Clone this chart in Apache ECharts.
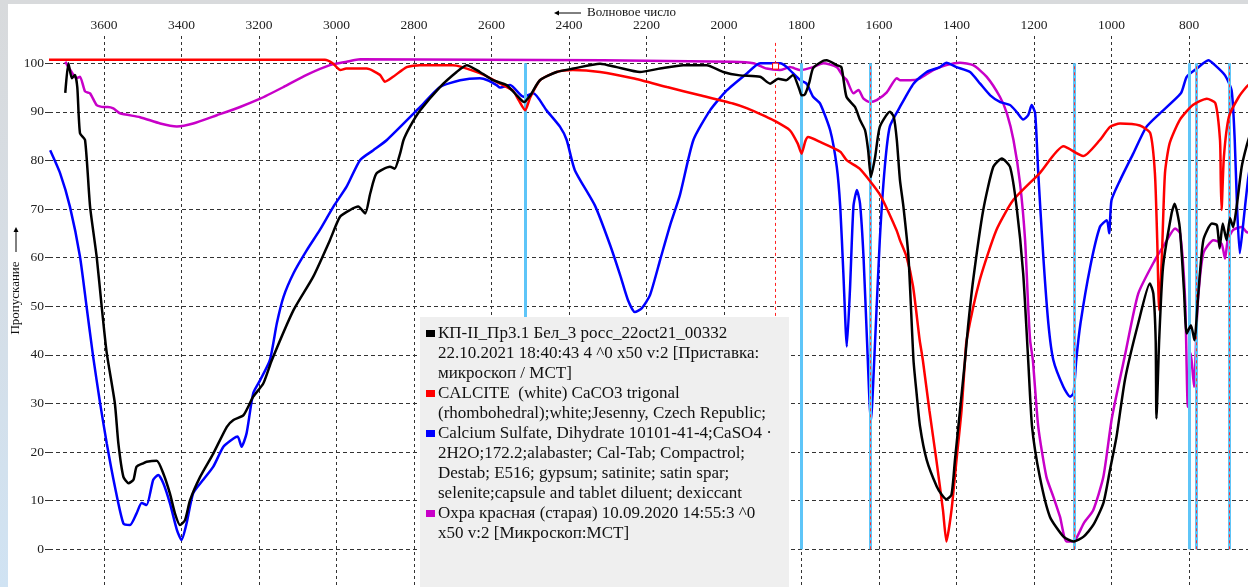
<!DOCTYPE html>
<html>
<head>
<meta charset="utf-8">
<script src="https://cdn.jsdelivr.net/npm/echarts@6/dist/echarts.min.js"></script>
<style>
  html, body { margin: 0; padding: 0; }
  body {
    width: 1248px; height: 587px; overflow: hidden; position: relative;
    background: linear-gradient(to bottom, #d8dadc 0%, #d6dde4 40%, #d0e3f3 100%);
  }
  #panel { position: absolute; left: 8px; top: 4px; width: 1240px; height: 583px; background: #fff; }
  #chart { position: absolute; left: 0; top: 0; width: 1248px; height: 587px; }
</style>
</head>
<body>
<div id="panel"></div>
<div id="chart"></div>
<script>
// Волновое число (cm-1) / Пропускание (%)
const blackData = [
  [3700, 93.9], [3692, 100], [3683, 96.9], [3675, 97.6], [3669, 95.1], [3662, 85.6], [3649, 84.2],
  [3636, 70.5], [3619, 60.2], [3606, 49.9], [3593, 40.4], [3572, 30], [3563, 21.8], [3550, 14.9],
  [3537, 13.6], [3524, 14.3], [3516, 17], [3499, 17.7], [3490, 18], [3464, 18.2], [3447, 15.6],
  [3430, 11.5], [3417, 7.4], [3404, 5], [3391, 6], [3378, 10.1], [3352, 14.9], [3318, 19.7],
  [3283, 25.2], [3266, 26.6], [3240, 27.6], [3215, 31.4], [3189, 34.1], [3167, 38.9], [3111, 49.2],
  [3060, 56.1], [3017, 63.6], [2991, 68.4], [2965, 69.8], [2944, 70.5], [2926, 69.1], [2913, 73.2],
  [2897, 77.3], [2862, 78.7], [2850, 78.3], [2836, 81.4], [2827, 84.2], [2810, 87], [2784, 90.3],
  [2733, 95.1], [2690, 98.2], [2664, 99.6], [2630, 98.2], [2596, 96.5], [2561, 95.5], [2535, 93.4],
  [2516, 92], [2500, 93.4], [2475, 96.5], [2432, 98.2], [2389, 98.9], [2320, 99.9], [2277, 99.2],
  [2217, 98.2], [2165, 98.9], [2105, 99.6], [2045, 99.6], [2002, 98.2], [1959, 97.5], [1907, 97.2],
  [1881, 95.8], [1860, 96.8], [1840, 96.5], [1822, 97.6], [1805, 94.5], [1800, 93.4], [1791, 93.6],
  [1780, 96], [1770, 99], [1744, 100.5], [1735, 100.6], [1709, 99.6], [1697, 99.2], [1684, 93.1],
  [1662, 91], [1649, 88.3], [1636, 86.2], [1628, 82.1], [1621, 76.6], [1610, 80.7], [1598, 86.9],
  [1572, 90], [1562, 89], [1554, 84.2], [1546, 76], [1537, 70.5], [1524, 60.2], [1511, 38.9],
  [1503, 32.1], [1494, 25.2], [1477, 18.4], [1451, 12.9], [1438, 11.2], [1426, 10.3], [1413, 11.2],
  [1404, 18.4], [1391, 28.6], [1378, 38.9], [1370, 46], [1357, 55.4], [1331, 69.8], [1305, 78.7],
  [1283, 80.4], [1262, 78.7], [1245, 70.5], [1228, 56.8], [1215, 38.9], [1205, 25.2], [1185, 14.9],
  [1159, 6.7], [1124, 2.6], [1098, 1.6], [1072, 2.6], [1047, 5], [1021, 9.5], [1004, 16.3],
  [987, 23.2], [965, 35], [931, 46.5], [901, 54.7], [892, 52.6], [886, 43], [884, 26.9], [877, 43],
  [867, 58.1], [845, 69.1], [837, 71.1], [824, 66.3], [813, 53.3], [806, 44.4], [795, 46.1],
  [786, 43], [776, 52.6], [763, 63.6], [741, 67], [728, 66.7], [721, 61.9], [713, 67], [703, 63.6],
  [694, 68.1], [686, 66.3], [677, 70.5], [664, 78.7], [652, 82.8], [640, 86]
];
const redData = [
  [3742, 100.7], [3030, 100.7], [3010, 100], [2990, 98.6], [2975, 98.9], [2922, 98.9], [2888, 97.6],
  [2875, 96.2], [2854, 97.2], [2819, 99.2], [2785, 99.6], [2700, 99.6], [2680, 99.3], [2620, 97.6],
  [2578, 95.8], [2545, 94.4], [2530, 92.4], [2513, 90.3], [2500, 93], [2475, 96.5], [2432, 98.2],
  [2390, 98.6], [2320, 98.2], [2235, 96.9], [2147, 95.1], [2062, 93.4], [1977, 91.7], [1940, 90.7],
  [1889, 88.9], [1873, 88.3], [1830, 86.2], [1810, 83.5], [1800, 81.4], [1790, 84], [1783, 84.8],
  [1752, 83.8], [1700, 81.8], [1683, 80], [1650, 78.3], [1598, 73], [1555, 65.7], [1546, 63.6],
  [1529, 60.2], [1512, 54], [1495, 43], [1487, 39], [1470, 28.6], [1452, 18.4], [1435, 8.1],
  [1426, 1.6], [1413, 8], [1400, 18.4], [1387, 28.6], [1378, 39], [1374, 43], [1340, 55.4],
  [1297, 65.7], [1254, 71.8], [1185, 77.4], [1124, 82.9], [1073, 80.9], [1030, 84.2], [1004, 86.9],
  [978, 87.6], [927, 87.2], [900, 85.6], [888, 77.4], [882, 63.6], [877, 49.2], [870, 60.2],
  [862, 77.4], [850, 83.5], [824, 88.3], [790, 91.4], [754, 92.7], [732, 91.8], [720, 84.2],
  [718, 75.9], [716, 69.8], [710, 80.7], [697, 89], [672, 93], [652, 95.1], [640, 96]
];
const blueData = [
  [3739, 82.1], [3713, 77.3], [3688, 70.5], [3662, 60.2], [3645, 49.9], [3628, 39.6], [3610, 30],
  [3593, 21.8], [3572, 12.9], [3550, 5.3], [3533, 5], [3516, 7.4], [3503, 9.5], [3490, 9.1],
  [3473, 14.3], [3460, 15.3], [3447, 13.6], [3430, 9.5], [3412, 4], [3400, 1.9], [3387, 5.3],
  [3370, 11.5], [3344, 14.3], [3318, 17], [3292, 21.1], [3266, 22.8], [3255, 23.2], [3245, 21.1],
  [3232, 23.9], [3215, 32.1], [3197, 34.8], [3172, 38.9], [3154, 46.5], [3137, 51.9], [3111, 56.8],
  [3077, 61.5], [3043, 65.7], [3008, 70.5], [2974, 74.6], [2939, 80.1], [2905, 82.1], [2870, 84.2],
  [2784, 91], [2733, 95.1], [2681, 96.5], [2630, 96.9], [2610, 96.5], [2587, 95.5], [2578, 95],
  [2552, 95.5], [2518, 93.1], [2492, 93.8], [2458, 90.3], [2423, 86.9], [2406, 84.2], [2385, 78],
  [2333, 70.7], [2294, 62.6], [2268, 56.4], [2248, 51.3], [2230, 48.8], [2212, 49.6], [2191, 52.3],
  [2165, 59.5], [2139, 66.7], [2114, 72.8], [2079, 84.2], [2036, 90.3], [1993, 94.4], [1941, 97.9],
  [1907, 100], [1855, 100], [1838, 99.2], [1803, 96.5], [1787, 95.8], [1770, 93.1], [1752, 91.7],
  [1726, 86.2], [1709, 78.7], [1700, 70.4], [1692, 56.8], [1683, 41.7], [1675, 53.3], [1666, 70.5],
  [1657, 73.9], [1649, 71.1], [1640, 60.2], [1631, 43], [1621, 26.2], [1610, 43], [1598, 63.6],
  [1585, 78.7], [1572, 87], [1546, 91], [1511, 95.8], [1477, 98.2], [1443, 99.2], [1426, 100.1],
  [1400, 99.2], [1365, 98.2], [1339, 95.8], [1313, 93.4], [1287, 92], [1262, 91.4], [1245, 90],
  [1228, 88.4], [1215, 89.3], [1206, 91.4], [1197, 89.7], [1189, 77.3], [1176, 60.2], [1163, 46.5],
  [1150, 38.9], [1124, 33.4], [1107, 31.4], [1098, 32.1], [1091, 38.9], [1080, 46.5], [1055, 58.1],
  [1030, 66.3], [1012, 67.7], [1006, 65], [1000, 71.8], [978, 75.9], [944, 81.4], [910, 86.9],
  [875, 89.7], [821, 93.8], [806, 97.2], [780, 98.9], [750, 100.6], [733, 99.6], [707, 97.5],
  [690, 94.4], [682, 84.2], [676, 70.5], [669, 60.9], [661, 66.3], [648, 75.9], [640, 80]
];
const magentaData = [
  [3700, 100.3], [3690, 99], [3671, 96.9], [3662, 97.2], [3649, 94.2], [3636, 93.8], [3619, 91.4],
  [3602, 91], [3590, 91], [3576, 90.7], [3559, 89.7], [3507, 88.9], [3455, 87.6], [3412, 87],
  [3370, 87.6], [3309, 89.3], [3249, 91], [3197, 92.7], [3137, 95.1], [3077, 97.6], [3017, 99.6],
  [2974, 100.3], [2939, 100.8], [2312, 100.6], [1977, 100.3], [1924, 100], [1890, 98.9],
  [1855, 98.6], [1830, 99.2], [1803, 98.6], [1770, 99.2], [1744, 100], [1709, 99.2], [1692, 97.2],
  [1683, 96.5], [1666, 93.8], [1653, 94.5], [1640, 92.7], [1623, 92], [1606, 92.4], [1580, 94],
  [1554, 96.9], [1546, 96.5], [1520, 96.5], [1494, 96.9], [1460, 98.6], [1426, 99.6], [1391, 100.1],
  [1357, 99.6], [1322, 97.2], [1288, 93.1], [1270, 89.7], [1253, 84.2], [1236, 75.3], [1223, 63.6],
  [1215, 49.9], [1210, 43], [1203, 38.9], [1189, 25.2], [1168, 14.9], [1150, 10.8], [1133, 6.7],
  [1116, 1.6], [1094, 1.9], [1072, 5.3], [1047, 8.1], [1021, 14.9], [999, 27], [965, 40],
  [931, 52.6], [888, 59.5], [862, 62.9], [836, 66], [823, 65], [810, 51.3], [803, 29.3],
  [795, 40.3], [787, 33.4], [778, 49.9], [763, 60.9], [737, 63.6], [716, 62.9], [707, 59.8],
  [700, 63.6], [686, 65.7], [664, 66.3], [652, 65.3], [640, 65]
];

// полосы (голубые) и маркеры (красный пунктир)
const bandMarks = [2513, 1800, 1623, 1097, 799, 781, 697];
const redCenterMarks = [1623, 1097, 781, 697];
const cursorMark = 1867;
const cursorValue = 99.4;

const legendLines = [
  ['КП-II_Пр3.1 Бел_3 росс_22oct21_00332', '22.10.2021 18:40:43 4 ^0 x50 v:2 [Приставка:', 'микроскоп / МСТ]'],
  ['CALCITE  (white) CaCO3 trigonal', '(rhombohedral);white;Jesenny, Czech Republic;'],
  ['Calcium Sulfate, Dihydrate 10101-41-4;CaSO4 ·', '2H2O;172.2;alabaster; Cal-Tab; Compactrol;', 'Destab; E516; gypsum; satinite; satin spar;', 'selenite;capsule and tablet diluent; dexiccant'],
  ['Охра красная (старая) 10.09.2020 14:55:3 ^0', 'x50 v:2 [Микроскоп:МСТ]']
];
const seriesColors = ['#000000', '#ff0000', '#0000ff', '#c800c8'];
const seriesData = [blackData, redData, blueData, magentaData];

const chart = echarts.init(document.getElementById('chart'), null, { renderer: 'canvas' });
const serif = '"Liberation Serif", "DejaVu Serif", serif';

// легенда как графика (текст с переносами)
const legendGraphic = [{
  type: 'rect', shape: { x: 420, y: 317, width: 369, height: 290 },
  style: { fill: '#efefef' }, z: 100
}];
let lineIdx = 0;
legendLines.forEach((lines, i) => {
  const yFirst = 333.5 + lineIdx * 20;
  legendGraphic.push({
    type: 'rect', shape: { x: 426, y: yFirst - 3.5, width: 9, height: 7 },
    style: { fill: seriesColors[i] }, z: 101
  });
  lines.forEach((t) => {
    legendGraphic.push({
      type: 'text', x: 438, y: 333.5 + lineIdx * 20, z: 101,
      style: { text: t, font: '17px ' + serif, fill: '#111', verticalAlign: 'middle' }
    });
    lineIdx++;
  });
});

const markLineData = [];
bandMarks.forEach((w) => {
  markLineData.push([
    { coord: [w, 0], lineStyle: { color: '#5ec5f8', width: 3, type: 'solid' } },
    { coord: [w, 100] }
  ]);
});
redCenterMarks.forEach((w) => {
  markLineData.push([
    { coord: [w, 0], lineStyle: { color: '#ff3030', width: 1, type: [3, 3] } },
    { coord: [w, 100] }
  ]);
});
markLineData.push([
  { coord: [cursorMark, -10], lineStyle: { color: '#ff2020', width: 1, type: [3, 3] } },
  { coord: [cursorMark, 104.8] }
]);

const option = {
  animation: false,
  backgroundColor: 'transparent',
  grid: { left: 49, right: -18.5, top: 36, bottom: -10.9, outerBoundsMode: 'none', containLabel: false },
  xAxis: {
    type: 'value', position: 'top', inverse: true,
    min: 600, max: 3742, interval: 200,
    axisLine: { show: false },
    axisTick: { show: true, length: 3, lineStyle: { color: '#333' } },
    axisLabel: { fontFamily: 'Liberation Serif', fontSize: 13.5, color: '#222', margin: 4, showMaxLabel: false,
      formatter: (v) => String(v) },
    splitLine: { show: true, showMaxLine: false, lineStyle: { color: '#333', type: [3, 3], width: 1 } }
  },
  yAxis: {
    type: 'value', min: -10, max: 105.6, interval: 10,
    axisLine: { show: false },
    axisTick: { show: true, length: 4, lineStyle: { color: '#333' } },
    axisLabel: { fontFamily: 'Liberation Serif', fontSize: 13.5, color: '#222', margin: 5, showMaxLabel: false,
      formatter: (v) => String(v) },
    splitLine: { show: true, showMaxLine: false, lineStyle: { color: '#333', type: [4, 3], width: 1 } }
  },
  series: [
    {
      type: 'line', name: 'marks', data: [], z: 1, silent: true,
      markLine: { silent: true, symbol: ['none', 'none'], label: { show: false }, data: markLineData }
    },
    ...[3, 2, 1, 0].map((i) => ({
      type: 'line',
      name: legendLines[i].join(' '),
      data: seriesData[i],
      showSymbol: false,
      smooth: 0.2,
      z: 3 + (3 - i),
      lineStyle: { color: seriesColors[i], width: 2.5 },
      itemStyle: { color: seriesColors[i] },
      markPoint: i === 3 ? {
        silent: true,
        data: [{ coord: [cursorMark, cursorValue], symbol: 'rect', symbolSize: [6, 6],
          itemStyle: { color: '#fff', borderColor: '#ff0000', borderWidth: 1 }, label: { show: false } }]
      } : undefined
    }))
  ],
  graphic: [
    // подпись оси X
    { type: 'line', shape: { x1: 556, y1: 13, x2: 581, y2: 13 }, style: { stroke: '#000', lineWidth: 1 } },
    { type: 'polygon', shape: { points: [[554, 13], [559, 10.5], [559, 15.5]] }, style: { fill: '#000' } },
    { type: 'text', x: 587, y: 13, style: { text: 'Волновое число', font: '13px ' + serif, fill: '#111', verticalAlign: 'middle' } },
    // подпись оси Y
    { type: 'text', x: 16, y: 298, rotation: Math.PI / 2,
      style: { text: 'Пропускание', font: '13px ' + serif, fill: '#111', align: 'center', verticalAlign: 'middle' } },
    { type: 'line', shape: { x1: 16, y1: 252, x2: 16, y2: 230 }, style: { stroke: '#000', lineWidth: 1 } },
    { type: 'polygon', shape: { points: [[16, 227], [13.5, 232], [18.5, 232]] }, style: { fill: '#000' } },
    ...legendGraphic
  ]
};

chart.setOption(option);
</script>
</body>
</html>
